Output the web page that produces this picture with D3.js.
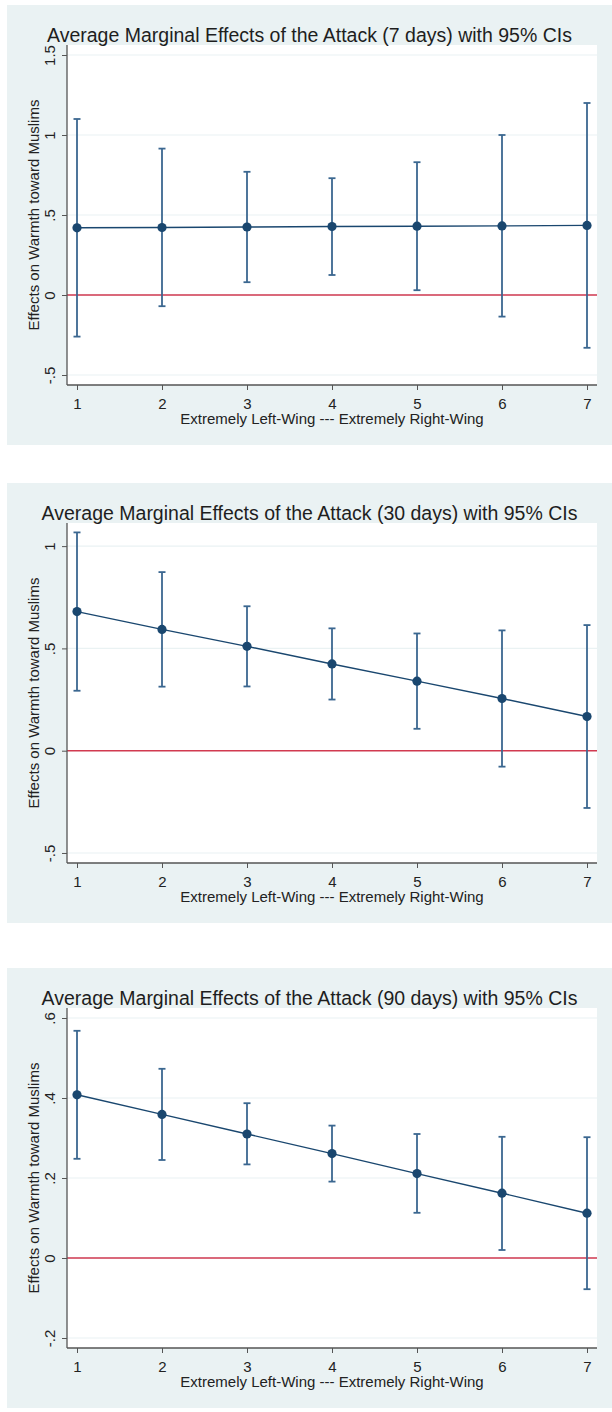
<!DOCTYPE html>
<html>
<head>
<meta charset="utf-8">
<script src="https://cdn.jsdelivr.net/npm/d3@7"></script>
<style>
  body { margin: 0; background: #fff; }
  text { font-family: "Liberation Sans", Arial, sans-serif; }
</style>
</head>
<body>
<svg width="612" height="1412"></svg>
<script>
const svg = d3.select("svg");

// ideology scale 1..7
const categories = [1, 2, 3, 4, 5, 6, 7];

// 7 days
const est7 = [0.42, 0.422, 0.425, 0.428, 0.43, 0.432, 0.435];
const lo7 = [-0.26, -0.07, 0.08, 0.125, 0.03, -0.135, -0.33];
const hi7 = [1.1, 0.915, 0.77, 0.73, 0.83, 1.0, 1.2];
const ticks7 = [-0.5, 0, 0.5, 1, 1.5];

// 30 days
const est30 = [0.68, 0.593, 0.51, 0.424, 0.34, 0.255, 0.167];
const lo30 = [0.293, 0.313, 0.314, 0.25, 0.107, -0.078, -0.28];
const hi30 = [1.067, 0.873, 0.706, 0.598, 0.573, 0.588, 0.614];
const ticks30 = [-0.5, 0, 0.5, 1];

// 90 days
const est90 = [0.408, 0.359, 0.31, 0.261, 0.211, 0.162, 0.112];
const lo90 = [0.248, 0.245, 0.234, 0.191, 0.113, 0.02, -0.078];
const hi90 = [0.568, 0.473, 0.387, 0.331, 0.31, 0.303, 0.302];
const ticks90 = [-0.2, 0, 0.2, 0.4, 0.6];

const panels = [
  { title: "Average Marginal Effects of the Attack (7 days) with 95% CIs", top: 5,
    est: est7, lo: lo7, hi: hi7, ticks: ticks7, domain: [-0.5625, 1.5625] },
  { title: "Average Marginal Effects of the Attack (30 days) with 95% CIs", top: 483,
    est: est30, lo: lo30, hi: hi30, ticks: ticks30, domain: [-0.549, 1.113] },
  { title: "Average Marginal Effects of the Attack (90 days) with 95% CIs", top: 968,
    est: est90, lo: lo90, hi: hi90, ticks: ticks90, domain: [-0.225, 0.625] }
];

const bgColor = "#eaf2f3";
const navy = "#1a476f";
const ciColor = "#3b6790";
const plot = { left: 67, right: 597, top: 40, bottom: 380 };

const stataFmt = d => String(d).replace(/^(-?)0\./, "$1.");

const xScale = d3.scaleLinear()
  .domain([1 - 10 / 85, 7 + 10 / 85])
  .range([plot.left, plot.right]);

const render = p => {
  const g = svg.append("g").attr("transform", `translate(0,${p.top})`);

  g.append("rect")
    .attr("x", 7).attr("y", 0)
    .attr("width", 605).attr("height", 440)
    .attr("fill", bgColor);

  g.append("rect")
    .attr("x", plot.left).attr("y", plot.top)
    .attr("width", plot.right - plot.left).attr("height", plot.bottom - plot.top)
    .attr("fill", "#fff");

  const yScale = d3.scaleLinear().domain(p.domain).range([plot.bottom, plot.top]);

  // grid
  g.append("g")
    .selectAll("line")
    .data(p.ticks)
    .enter()
    .append("line")
    .attr("x1", plot.left).attr("x2", plot.right)
    .attr("y1", d => yScale(d)).attr("y2", d => yScale(d))
    .attr("stroke", bgColor).attr("stroke-width", 1.2);

  // zero line
  g.append("line")
    .attr("x1", plot.left).attr("x2", plot.right)
    .attr("y1", yScale(0)).attr("y2", yScale(0))
    .attr("stroke", "#d23a50").attr("stroke-width", 1.6);

  // y axis
  const yAxis = g.append("g")
    .attr("transform", `translate(${plot.left},0)`)
    .call(d3.axisLeft(yScale).tickValues(p.ticks).tickFormat(stataFmt).tickSize(5));
  yAxis.select(".domain").attr("stroke", "#555").attr("stroke-width", 1.3)
    .attr("d", `M0,${plot.top}V${plot.bottom}`);
  yAxis.selectAll(".tick line").attr("stroke", "#555");
  yAxis.selectAll(".tick text")
    .attr("x", 0).attr("dy", 0)
    .attr("transform", "translate(-12,0) rotate(-90)")
    .attr("text-anchor", "middle")
    .attr("font-size", 15)
    .attr("fill", "#222");

  // x axis
  const xAxis = g.append("g")
    .attr("transform", `translate(0,${plot.bottom})`)
    .call(d3.axisBottom(xScale).tickValues(categories).tickFormat(d3.format("d")).tickSize(5));
  xAxis.select(".domain").attr("stroke", "#555").attr("stroke-width", 1.3)
    .attr("d", `M${plot.left},0H${plot.right}`);
  xAxis.selectAll(".tick line").attr("stroke", "#555");
  xAxis.selectAll(".tick text")
    .attr("y", 0).attr("dy", 0)
    .attr("transform", "translate(0,24)")
    .attr("font-size", 15)
    .attr("fill", "#222");

  // CIs
  const ci = g.append("g").attr("stroke", ciColor).attr("stroke-width", 1.8);
  categories.forEach((c, i) => {
    const x = xScale(c);
    ci.append("line").attr("x1", x).attr("x2", x)
      .attr("y1", yScale(p.lo[i])).attr("y2", yScale(p.hi[i]));
    ci.append("line").attr("x1", x - 3.5).attr("x2", x + 3.5)
      .attr("y1", yScale(p.lo[i])).attr("y2", yScale(p.lo[i]));
    ci.append("line").attr("x1", x - 3.5).attr("x2", x + 3.5)
      .attr("y1", yScale(p.hi[i])).attr("y2", yScale(p.hi[i]));
  });

  // estimate line + points
  const line = d3.line().x((d, i) => xScale(categories[i])).y(d => yScale(d));
  g.append("path")
    .datum(p.est)
    .attr("d", line)
    .attr("fill", "none")
    .attr("stroke", navy)
    .attr("stroke-width", 1.4);

  g.selectAll("circle")
    .data(p.est)
    .enter()
    .append("circle")
    .attr("cx", (d, i) => xScale(categories[i]))
    .attr("cy", d => yScale(d))
    .attr("r", 4.6)
    .attr("fill", navy);

  // titles
  g.append("text")
    .attr("x", 309.5).attr("y", 37)
    .attr("text-anchor", "middle")
    .attr("font-size", 19.5)
    .attr("fill", "#1e1e1e")
    .text(p.title);

  g.append("text")
    .attr("x", (plot.left + plot.right) / 2).attr("y", 419)
    .attr("text-anchor", "middle")
    .attr("font-size", 15)
    .attr("fill", "#222")
    .text("Extremely Left-Wing --- Extremely Right-Wing");

  g.append("text")
    .attr("transform", `translate(39,${(plot.top + plot.bottom) / 2}) rotate(-90)`)
    .attr("text-anchor", "middle")
    .attr("font-size", 15)
    .attr("fill", "#222")
    .text("Effects on Warmth toward Muslims");
};

panels.forEach(render);
</script>
</body>
</html>
